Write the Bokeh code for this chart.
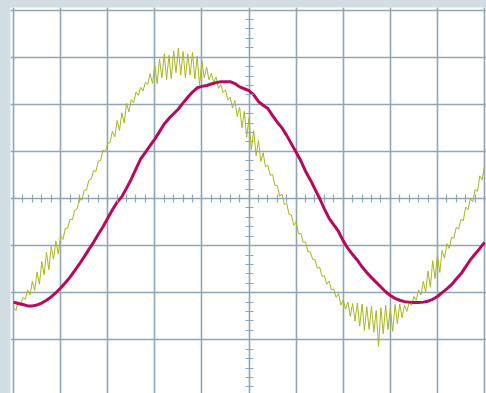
from bokeh.plotting import figure
from bokeh.models import LinearAxis, FixedTicker, Range1d, CustomJSTickFormatter
from bokeh.embed import file_html
from bokeh.resources import INLINE

# ---- data (time in sample units, amplitude in units of 1/100 division) ----
raw_t = list(range(0, 1001, 5))
raw_v = [
    -232, -238, -219, -227, -210, -214, -194, -205, -176, -195,
    -156, -182, -134, -162, -114, -151, -102, -129, -90, -118,
    -79, -87, -63, -63, -44, -45, -25, -22, 0, -4,
    17, 18, 39, 41, 59, 58, 79, 81, 103, 99,
    117, 119, 143, 131, 166, 145, 182, 160, 202, 184,
    210, 203, 226, 219, 236, 228, 247, 242, 265, 244,
    282, 244, 296, 256, 307, 252, 304, 254, 313, 267,
    319, 262, 312, 256, 307, 262, 310, 254, 302, 241,
    292, 256, 279, 252, 266, 247, 258, 234, 242, 225,
    231, 209, 215, 192, 208, 174, 194, 150, 185, 130,
    171, 104, 144, 91, 123, 79, 97, 67, 71, 49,
    51, 28, 28, 5, 9, -13, -10, -34, -35, -57,
    -49, -75, -74, -93, -92, -113, -113, -129, -130, -148,
    -146, -165, -164, -182, -175, -194, -192, -210, -202, -226,
    -216, -235, -220, -250, -223, -260, -222, -271, -224, -280,
    -230, -278, -229, -284, -238, -314, -232, -287, -226, -278,
    -234, -282, -225, -266, -224, -253, -226, -240, -221, -227,
    -208, -216, -194, -205, -176, -199, -154, -188, -132, -170,
    -120, -157, -110, -127, -96, -106, -83, -84, -61, -65,
    -44, -47, -18, -24, 0, -7, 19, 15, 48, 40,
    70,
]

avg_t = list(range(0, 1001, 10))
avg_v = [
    -220, -223, -225, -228, -228, -226, -222, -216, -209, -200,
    -190, -179, -167, -153, -139, -124, -108, -93, -76, -60,
    -42, -24, -8, 4, 22, 41, 63, 84, 98, 112,
    126, 142, 158, 170, 180, 190, 203, 215, 226, 235,
    238, 240, 243, 246, 248, 248, 248, 244, 237, 233,
    229, 220, 206, 198, 191, 176, 162, 150, 134, 116,
    98, 80, 58, 40, 20, 0, -22, -42, -56, -70,
    -90, -106, -119, -131, -145, -157, -168, -178, -188, -198,
    -206, -212, -216, -219, -220, -221, -221, -220, -218, -214,
    -208, -200, -192, -183, -171, -160, -145, -130, -118, -106,
    -93,
]

x_grid = list(range(0, 1001, 100))
y_grid = list(range(-300, 401, 100))
x_minor = list(range(0, 1001, 20))
y_minor = list(range(-400, 401, 20))

# ---- styles ----
page_bg = "#d1dde2"
grid_col = "#8ea6b6"
raw_col = "#a9b81c"
avg_col = "#b80a5c"

p = figure(
    width=486, height=393,
    x_range=Range1d(-6.4, 1004.2), y_range=Range1d(-414, 405.5),
    output_backend="svg", toolbar_location=None,
    x_axis_location=None, y_axis_location=None,
    min_border_left=10, min_border_right=0, min_border_top=7, min_border_bottom=0,
)
p.background_fill_color = "white"
p.border_fill_color = page_bg
p.outline_line_color = None

p.xgrid.ticker = FixedTicker(ticks=x_grid)
p.ygrid.ticker = FixedTicker(ticks=y_grid)
for g in (p.xgrid, p.ygrid):
    g.grid_line_color = grid_col
    g.grid_line_width = 1.6

blank = CustomJSTickFormatter(code="return ''")
xc = LinearAxis(fixed_location=0, ticker=FixedTicker(ticks=x_minor), formatter=blank,
                axis_line_color=None, major_tick_in=4, major_tick_out=4,
                major_tick_line_color=grid_col, major_tick_line_width=1.2,
                minor_tick_line_color=None, major_label_standoff=0)
yc = LinearAxis(fixed_location=500, ticker=FixedTicker(ticks=y_minor), formatter=blank,
                axis_line_color=None, major_tick_in=4, major_tick_out=4,
                major_tick_line_color=grid_col, major_tick_line_width=1.2,
                minor_tick_line_color=None, major_label_standoff=0)
p.add_layout(xc, "below")
p.add_layout(yc, "left")

p.line(raw_t, raw_v, line_color=raw_col, line_width=1)
p.line(avg_t, avg_v, line_color=avg_col, line_width=3)

html = file_html(p, INLINE)
html = html.replace("</head>", "<style>html,body{background:%s;}</style></head>" % page_bg, 1)
open("out.html", "w").write(html)
